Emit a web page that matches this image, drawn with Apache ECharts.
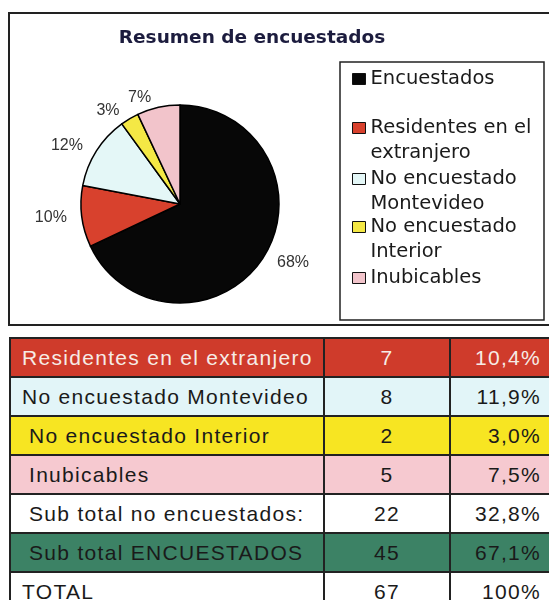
<!DOCTYPE html>
<html>
<head>
<meta charset="utf-8">
<script src="https://cdn.jsdelivr.net/npm/echarts@6/dist/echarts.min.js"></script>
<style>
  body { margin: 0; width: 549px; height: 600px; overflow: hidden; background: #fff; position: relative; }
  #chart { position: absolute; left: 0; top: 0; width: 549px; height: 332px; }
  #tbl {
    position: absolute; left: 9px; top: 337px; width: 545px;
    border-collapse: collapse; table-layout: fixed;
    font-family: "Liberation Sans", Arial, sans-serif; font-size: 21px;
    letter-spacing: 1.3px; color: #1a1a1a;
  }
  #tbl td { border: 2px solid #222; padding: 0; height: 37px; white-space: nowrap; overflow: hidden; }
  #tbl td.count { text-align: center; }
  #tbl td.pct { text-align: right; padding-right: 13px; }
</style>
</head>
<body>
<div id="chart"></div>
<table id="tbl">
  <colgroup><col style="width:314px"><col style="width:126px"><col style="width:105px"></colgroup>
  <tbody id="rows"></tbody>
</table>
<script>
// pie slices, clockwise from 12 o'clock
const sliceNames = ["Encuestados", "Residentes en el extranjero", "No encuestado Montevideo", "No encuestado Interior", "Inubicables"];
const slicePercents = [68, 10, 12, 3, 7];
const legendLabels = ["Encuestados", "Residentes en el\nextranjero", "No encuestado\nMontevideo", "No encuestado\nInterior", "Inubicables"];

// table below the chart
const rowLabels = ["Residentes en el extranjero", "No encuestado Montevideo", "No encuestado Interior", "Inubicables", "Sub total no encuestados:", "Sub total ENCUESTADOS", "TOTAL"];
const rowCounts = [7, 8, 2, 5, 22, 45, 67];
const rowPercents = ["10,4%", "11,9%", "3,0%", "7,5%", "32,8%", "67,1%", "100%"];

// styles
const sliceColors = ["#070707", "#d8412d", "#e4f7f7", "#f4e845", "#f2c4cb"];
const legendTops = [66.5, 90.5, 141.5, 189.5, 265.5];
const rowBg = ["#cf3b2b", "#e2f5f8", "#f7e522", "#f6c9d0", "#ffffff", "#3c8265", "#ffffff"];
const rowFg = ["#f6ece6", "#1a1a1a", "#1a1a1a", "#1a1a1a", "#1a1a1a", "#1a1a1a", "#1a1a1a"];
const rowIndent = [0, 0, 7, 7, 7, 7, 0];

const tbody = document.getElementById("rows");
rowLabels.forEach((label, i) => {
  const tr = document.createElement("tr");
  tr.style.background = rowBg[i];
  tr.style.color = rowFg[i];
  const cells = [
    ["name", label],
    ["count", String(rowCounts[i])],
    ["pct", rowPercents[i]],
  ];
  cells.forEach(([cls, text]) => {
    const td = document.createElement("td");
    td.className = cls;
    td.textContent = text;
    if (cls === "name") td.style.paddingLeft = 11 + rowIndent[i] + "px";
    tr.appendChild(td);
  });
  tbody.appendChild(tr);
});

const chart = echarts.init(document.getElementById("chart"), null, { renderer: "canvas" });

// legend text is centred on the icon, so a leading empty line puts
// the icon beside the first line of the two-line entries
const legendText = (label) => (label.indexOf("\n") >= 0 ? "\n" + label : label);

const option = {
  animation: false,
  backgroundColor: "#fff",
  title: {
    text: "Resumen de encuestados",
    left: 252,
    top: 29,
    padding: 0,
    textAlign: "center",
    textStyle: { fontFamily: "DejaVu Sans", fontWeight: "bold", fontSize: 18.5, color: "#1c1c3e" },
  },
  graphic: [
    {
      type: "rect",
      z: -1,
      shape: { x: 9, y: 13, width: 548, height: 312 },
      style: { fill: "none", stroke: "#222", lineWidth: 2 },
    },
    {
      type: "rect",
      z: -1,
      shape: { x: 340, y: 62, width: 204, height: 258 },
      style: { fill: "none", stroke: "#222", lineWidth: 1.5 },
    },
  ],
  legend: sliceNames.map((name, i) => ({
    data: [name],
    orient: "vertical",
    left: 352,
    top: legendTops[i],
    padding: 0,
    icon: "rect",
    itemWidth: 13,
    itemHeight: 11,
    selectedMode: false,
    itemStyle: { borderColor: "#111", borderWidth: 1 },
    formatter: () => legendText(legendLabels[i]),
    textStyle: {
      fontFamily: "DejaVu Sans",
      fontSize: 19.5,
      color: "#1a1a1a",
      lineHeight: 25,
    },
  })),
  series: [
    {
      type: "pie",
      center: [180, 204],
      radius: 99,
      startAngle: 90,
      clockwise: true,
      avoidLabelOverlap: false,
      data: sliceNames.map((name, i) => ({
        name,
        value: slicePercents[i],
        itemStyle: { color: sliceColors[i] },
      })),
      itemStyle: { borderColor: "#000", borderWidth: 1.5 },
      label: {
        position: "outside",
        formatter: "{c}%",
        fontFamily: "Liberation Sans",
        fontSize: 16,
        color: "#333",
        distanceToLabelLine: 5,
      },
      labelLine: { show: false, length: 10, length2: 0 },
      emphasis: { disabled: true },
    },
  ],
};

chart.setOption(option);
</script>
</body>
</html>
